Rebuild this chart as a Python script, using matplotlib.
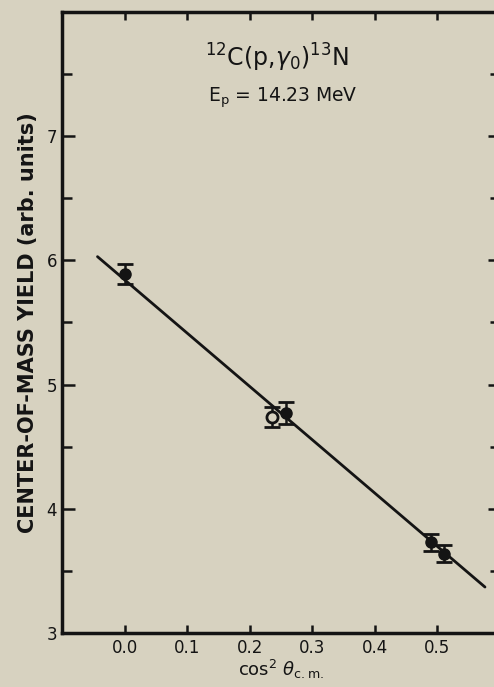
import numpy as np
import matplotlib; matplotlib.use('Agg'); import matplotlib.pyplot as plt

# measured points: cos^2(theta_cm) vs yield
cos2_filled = [0.0, 0.258, 0.489, 0.510]
yield_filled = [5.89, 4.77, 3.73, 3.64]
err_filled = [0.08, 0.09, 0.07, 0.07]

cos2_open = [0.236]
yield_open = [4.74]
err_open = [0.08]

# straight-line fit
fit_x = [-0.044, 0.576]
fit_y = [6.03, 3.37]

x_ticks = [0.0, 0.1, 0.2, 0.3, 0.4, 0.5]
x_ticklabels = ['0.0', '0.1', '0.2', '0.3', '0.4', '0.5']
y_ticks = [3, 4, 5, 6, 7]

BG = '#d7d2c0'
INK = '#141414'

plt.rcParams['font.family'] = ['DejaVu Sans']
fig = plt.figure(figsize=(4.94, 6.87), dpi=100, facecolor=BG)
ax = fig.add_axes([0.1265, 0.0786, 0.8856, 0.904])
ax.set_facecolor(BG)

ax.plot(fit_x, fit_y, color=INK, lw=2.0, solid_capstyle='round')
ax.errorbar(cos2_filled, yield_filled, yerr=err_filled, fmt='o', color=INK,
            ms=8, capsize=6, capthick=2, elinewidth=1.8)
ax.errorbar(cos2_open, yield_open, yerr=err_open, fmt='o', color=INK, mfc=BG,
            mec=INK, mew=2, ms=8, capsize=6, capthick=2, elinewidth=1.8)

ax.set_xlim(-0.1, 0.6)
ax.set_ylim(3, 8)
ax.set_xticks(x_ticks)
ax.set_xticklabels(x_ticklabels)
ax.set_yticks(y_ticks)
ax.set_yticks(np.arange(3.5, 8, 1.0), minor=True)
ax.tick_params(axis='both', which='both', direction='in', color=INK,
               labelcolor=INK, width=1.8, labelsize=12)
ax.tick_params(axis='x', which='major', length=6, top=True, pad=4)
ax.tick_params(axis='y', which='major', length=9, right=True, pad=4)
ax.tick_params(axis='y', which='minor', length=7, right=True)
for s in ax.spines.values():
    s.set_linewidth(2.5)
    s.set_color(INK)

ax.text(0.243, 7.63, r'$^{12}$C(p,$\gamma_0$)$^{13}$N', ha='center', va='center',
        fontsize=17, color=INK)
ax.text(0.252, 7.31, r'E$_\mathrm{p}$ = 14.23 MeV', ha='center', va='center',
        fontsize=13.5, color=INK)

ax.set_ylabel('CENTER-OF-MASS YIELD (arb. units)', fontsize=15,
              fontweight='bold', color=INK, labelpad=6)
ax.set_xlabel(r'cos$^2$ $\theta_\mathrm{c.m.}$', fontsize=13, color=INK,
              labelpad=1)

fig.savefig('out.png', dpi=100, facecolor=BG)
